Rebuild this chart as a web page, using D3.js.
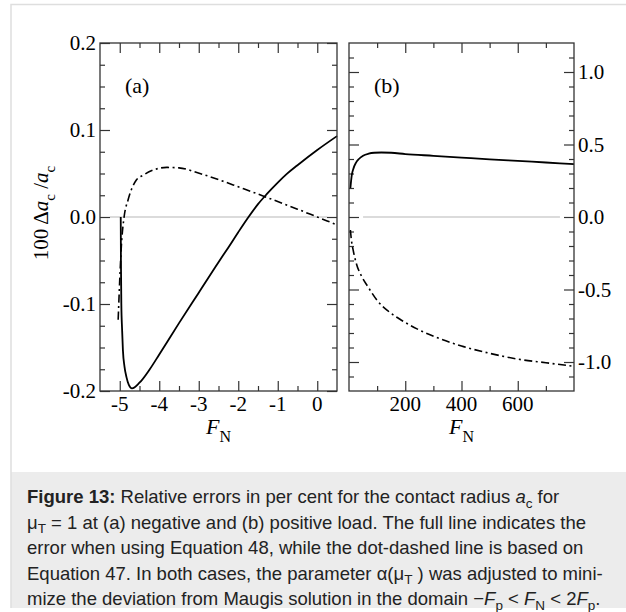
<!DOCTYPE html>
<html>
<head>
<meta charset="utf-8">
<script src="https://cdn.jsdelivr.net/npm/d3@7"></script>
<style>
  html, body { margin: 0; padding: 0; background: #fff; }
  svg { display: block; }
</style>
</head>
<body>
<script>
// ---- data: relative error of the contact radius (per cent) ----
// (a) negative load
const negFullLoad = [-4.975, -4.97, -4.96, -4.94, -4.92, -4.88, -4.83, -4.77, -4.69, -4.5, -4.24, -4.0, -3.5, -3.0, -2.5, -2.25, -2.0, -1.74, -1.5, -1.28, -1.0, -0.77, -0.5, 0.0, 0.5];
const negFullErr  = [0.0, -0.05, -0.1, -0.13, -0.153, -0.172, -0.184, -0.193, -0.197, -0.1905, -0.175, -0.158, -0.122, -0.087, -0.052, -0.035, -0.0175, 0.0, 0.0148, 0.0262, 0.0395, 0.0495, 0.0595, 0.077, 0.093];
const negDashLoad = [-5.04, -5.0, -4.96, -4.89, -4.79, -4.58, -4.41, -4.15, -3.81, -3.5, -2.97, -2.42, -2.0, -1.28, -0.5, 0.0, 0.5];
const negDashErr  = [-0.118, -0.072, -0.034, 0.0, 0.0195, 0.0425, 0.048, 0.054, 0.057, 0.0565, 0.05, 0.0417, 0.0347, 0.0226, 0.009, 0.0, -0.009];
// (b) positive load
const posFullLoad = [5, 10, 15, 25, 35, 50, 70, 90, 115, 150, 200, 300, 400, 500, 600, 700, 800];
const posFullErr  = [0.2, 0.29, 0.33, 0.375, 0.4, 0.423, 0.437, 0.443, 0.445, 0.443, 0.434, 0.422, 0.41, 0.398, 0.387, 0.376, 0.365];
const posDashLoad = [5, 8, 15, 26, 45, 67, 102, 140, 185, 240, 302, 400, 500, 600, 700, 800];
const posDashErr  = [-0.09, -0.15, -0.23, -0.32, -0.41, -0.48, -0.58, -0.65, -0.71, -0.77, -0.823, -0.89, -0.94, -0.98, -1.005, -1.03];

// ---- axis ticks ----
const negLoadMajor = [-5, -4, -3, -2, -1, 0];
const negLoadMinor = [-4.5, -3.5, -2.5, -1.5, -0.5];
const negErrMajor  = [-0.2, -0.1, 0.0, 0.1, 0.2];
const negErrMinor  = [-0.175, -0.15, -0.125, -0.075, -0.05, -0.025, 0.025, 0.05, 0.075, 0.125, 0.15, 0.175];
const posLoadMajor = [200, 400, 600];
const posLoadMinor = [100, 300, 500, 700];
const posErrMajor  = [-1.0, -0.5, 0.0, 0.5, 1.0];
const posErrMinor  = [-1.1, -0.9, -0.8, -0.7, -0.6, -0.4, -0.3, -0.2, -0.1, 0.1, 0.2, 0.3, 0.4, 0.6, 0.7, 0.8, 0.9, 1.1];

const W = 626, H = 612;
const serif = "'Liberation Serif', 'DejaVu Serif', serif";
const sans = "'Liberation Sans', Arial, sans-serif";
const axisColor = "#333";
const tickFont = 21;

const svg = d3.select("body").append("svg").attr("width", W).attr("height", H);

// figure frame and caption background
svg.append("rect").attr("x", 11).attr("y", 472).attr("width", W - 11).attr("height", 136).attr("fill", "#ececec");
svg.append("path").attr("d", `M11,${H - 4}V4.5H${W}`).attr("fill", "none").attr("stroke", "#dedede").attr("stroke-width", 1.5);

const plotTop = 43, plotBottom = 391;
const xa = d3.scaleLinear().domain([-5.5, 0.5]).range([100, 337]);
const ya = d3.scaleLinear().domain([-0.2, 0.2]).range([plotBottom, plotTop]);
const xb = d3.scaleLinear().domain([0, 800]).range([349, 574]);
const yb = d3.scaleLinear().domain([-1.2, 1.2]).range([plotBottom, plotTop]);

function ticks(g, axisFn, scale, values, size, tx, ty) {
  const a = axisFn(scale).tickValues(values).tickSizeInner(size).tickSizeOuter(0).tickFormat("");
  const sel = g.append("g").attr("transform", `translate(${tx},${ty})`).call(a);
  sel.select(".domain").remove();
  sel.selectAll(".tick line").attr("stroke", axisColor).attr("stroke-width", 1.2);
  return sel;
}

function panel(x, y, xMaj, xMin, yMaj, yMin) {
  const g = svg.append("g");
  const [x0, x1] = x.range();
  // inward ticks on all four sides
  ticks(g, d3.axisBottom, x, xMaj, -10, 0, plotBottom);
  ticks(g, d3.axisBottom, x, xMin, -5, 0, plotBottom);
  ticks(g, d3.axisTop, x, xMaj, -10, 0, plotTop);
  ticks(g, d3.axisTop, x, xMin, -5, 0, plotTop);
  ticks(g, d3.axisLeft, y, yMaj, -10, x0, 0);
  ticks(g, d3.axisLeft, y, yMin, -5, x0, 0);
  ticks(g, d3.axisRight, y, yMaj, -10, x1, 0);
  ticks(g, d3.axisRight, y, yMin, -5, x1, 0);
  return g;
}

const ga = panel(xa, ya, negLoadMajor, negLoadMinor, negErrMajor, negErrMinor);
const gb = panel(xb, yb, posLoadMajor, posLoadMinor, posErrMajor, posErrMinor);

// zero reference lines
ga.insert("line", ":first-child").attr("x1", xa(-5.25)).attr("x2", xa(0.25)).attr("y1", ya(0)).attr("y2", ya(0))
  .attr("stroke", "#cfcfcf").attr("stroke-width", 1.6);
gb.insert("line", ":first-child").attr("x1", xb(50)).attr("x2", xb(750)).attr("y1", yb(0)).attr("y2", yb(0))
  .attr("stroke", "#cfcfcf").attr("stroke-width", 1.6);

// curves
function curve(g, x, y, xs, ys, dashed) {
  const pts = xs.map((v, i) => [v, ys[i]]);
  const line = d3.line().x(d => x(d[0])).y(d => y(d[1])).curve(d3.curveMonotoneX);
  g.append("path").datum(pts).attr("d", line).attr("fill", "none").attr("stroke", "#000")
    .attr("stroke-width", dashed ? 1.6 : 1.8)
    .attr("stroke-dasharray", dashed ? "8,3.5,2,3.5" : null);
}
curve(ga, xa, ya, negDashLoad, negDashErr, true);
curve(ga, xa, ya, negFullLoad, negFullErr, false);
curve(gb, xb, yb, posDashLoad, posDashErr, true);
curve(gb, xb, yb, posFullLoad, posFullErr, false);

// frames
[[xa, ya], [xb, yb]].forEach(([x, y]) => {
  svg.append("rect").attr("x", x.range()[0]).attr("y", plotTop)
    .attr("width", x.range()[1] - x.range()[0]).attr("height", plotBottom - plotTop)
    .attr("fill", "none").attr("stroke", axisColor).attr("stroke-width", 1.3);
});

// tick labels
const fmtLoad = d => String(d).replace("\u2212", "-");
const fmtErr = d => d3.format(".1f")(d).replace("\u2212", "-");
svg.append("g").selectAll("text").data(negLoadMajor).join("text")
  .attr("x", d => xa(d)).attr("y", 411).attr("text-anchor", "middle")
  .attr("font-family", serif).attr("font-size", tickFont).text(fmtLoad);
svg.append("g").selectAll("text").data(posLoadMajor).join("text")
  .attr("x", d => xb(d)).attr("y", 411).attr("text-anchor", "middle")
  .attr("font-family", serif).attr("font-size", tickFont).text(fmtLoad);
svg.append("g").selectAll("text").data(negErrMajor).join("text")
  .attr("x", 96).attr("y", d => ya(d) + 7).attr("text-anchor", "end")
  .attr("font-family", serif).attr("font-size", tickFont).text(fmtErr);
svg.append("g").selectAll("text").data(posErrMajor).join("text")
  .attr("x", 578).attr("y", d => yb(d) + 7).attr("text-anchor", "start")
  .attr("font-family", serif).attr("font-size", tickFont).text(fmtErr);

// panel tags
svg.append("text").attr("x", 125).attr("y", 93).attr("font-family", serif).attr("font-size", 22).text("(a)");
svg.append("text").attr("x", 374).attr("y", 93).attr("font-family", serif).attr("font-size", 22).text("(b)");

// axis titles
function loadTitle(cx) {
  const t = svg.append("text").attr("x", cx).attr("y", 434).attr("text-anchor", "middle")
    .attr("font-family", serif).attr("font-size", 22);
  t.append("tspan").attr("font-style", "italic").text("F");
  t.append("tspan").attr("dy", 8).attr("font-size", 16).text("N");
}
loadTitle(d3.mean(xa.range()));
loadTitle(d3.mean(xb.range()));

const yt = svg.append("text").attr("transform", "translate(48,213) rotate(-90)")
  .attr("text-anchor", "middle").attr("font-family", serif).attr("font-size", 21);
yt.append("tspan").text("100 \u0394");
yt.append("tspan").attr("font-style", "italic").text("a");
yt.append("tspan").attr("dy", 7).attr("font-size", 15).text("c");
yt.append("tspan").attr("dy", -7).text(" /");
yt.append("tspan").attr("font-style", "italic").text("a");
yt.append("tspan").attr("dy", 7).attr("font-size", 15).text("c");

// caption
const capLines = [
  [["b", "Figure 13:"], ["", " Relative errors in per cent for the contact radius "], ["i", "a"], ["sub", "c"], ["", " for"]],
  [["", "\u03bc"], ["sub", "T"], ["", " = 1 at (a) negative and (b) positive load. The full line indicates the"]],
  [["", "error when using Equation 48, while the dot-dashed line is based on"]],
  [["", "Equation 47. In both cases, the parameter \u03b1(\u03bc"], ["sub", "T"], ["", " ) was adjusted to mini-"]],
  [["", "mize the deviation from Maugis solution in the domain \u2212"], ["i", "F"], ["sub", "p"], ["", " < "],
   ["i", "F"], ["sub", "N"], ["", " < 2"], ["i", "F"], ["sub", "p"], ["", "."]]
];
capLines.forEach((parts, li) => {
  const t = svg.append("text").attr("x", 27).attr("y", 503 + li * 25.6)
    .attr("font-family", sans).attr("font-size", 18.5).attr("fill", "#222");
  let sub = false;
  parts.forEach(([kind, str]) => {
    const s = t.append("tspan").text(str);
    if (kind === "b") s.attr("font-weight", "bold");
    if (kind === "i") s.attr("font-style", "italic");
    if (kind === "sub") { s.attr("font-size", 13.5).attr("dy", 4.5); sub = true; }
    else if (sub) { s.attr("dy", -4.5); sub = false; }
  });
});
</script>
</body>
</html>
